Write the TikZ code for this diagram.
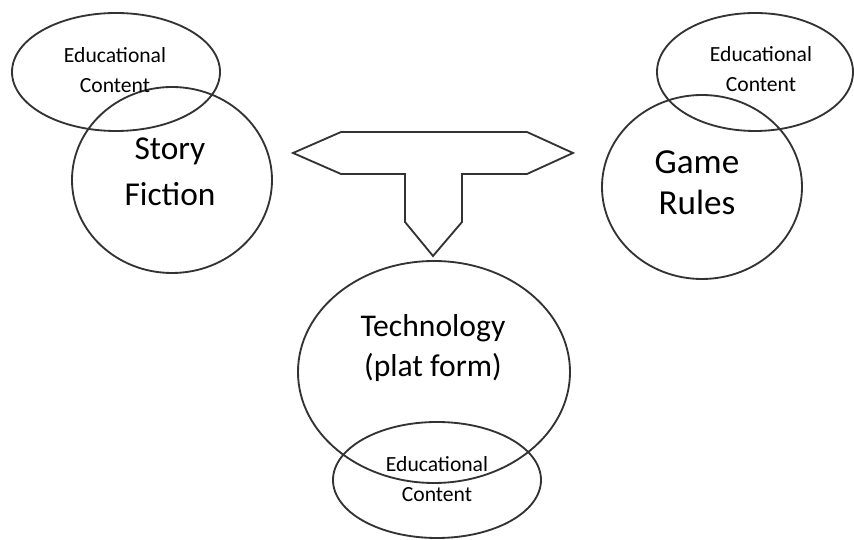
\documentclass[tikz,border=0pt]{standalone}
\usepackage{fontspec}
\setmainfont{Carlito}
\usetikzlibrary{shapes.geometric}

\tikzset{
  outline/.style={draw=black!80, line width=1.05pt},
  bubble/.style={outline, ellipse, inner sep=0pt},
  bigtext/.style={align=center, font=\fontsize{19}{26.5}\selectfont},
  smalltext/.style={align=center, font=\fontsize{12.3}{17}\selectfont},
}

\begin{document}
\begin{tikzpicture}
        \useasboundingbox (0,0) rectangle (17.08,10.8);

        % Cerchi principali
        \node[bubble, minimum width=4cm, minimum height=3.72cm] (story) at (3.44,7.20) {};
        \node[bubble, minimum width=4cm, minimum height=3.68cm] (game) at (14.04,7.06) {};
        \node[bubble, minimum width=5.44cm, minimum height=4.44cm] (tech) at (8.68,3.36) {};

        % Ellissi del contenuto educativo
        \node[bubble, minimum width=4.16cm, minimum height=2.36cm] (eduleft) at (2.32,9.36) {};
        \node[bubble, minimum width=3.92cm, minimum height=2.36cm] (eduright) at (15.10,9.36) {};
        \node[bubble, minimum width=4.16cm, minimum height=2.32cm] (edubottom) at (8.74,1.20) {};

        % Testi
        \node[bigtext] (storytext) at (3.40,7.36) {Story\\Fiction};
        \node[bigtext, font=\fontsize{20}{23.5}\selectfont] (gametext) at (13.94,7.14) {Game\\Rules};
        \node[bigtext, font=\fontsize{18}{22.8}\selectfont] (techtext) at (8.66,3.84) {Technology\\(plat form)};
        \node[smalltext] (edulefttext) at (2.30,9.40) {Educational\\Content};
        \node[smalltext] (edurighttext) at (15.22,9.42) {Educational\\Content};
        \node[smalltext] (edubottomtext) at (8.74,1.22) {Educational\\Content};

        % Freccia a T
        \draw[outline, line join=miter] (5.86,7.74) -- (6.82,8.16) -- (10.54,8.16) -- (11.46,7.74)
            -- (10.54,7.32) -- (9.24,7.32) -- (9.24,6.36) -- (8.66,5.68) -- (8.10,6.36)
            -- (8.10,7.32) -- (6.82,7.32) -- cycle;
    \end{tikzpicture}
\end{document}
